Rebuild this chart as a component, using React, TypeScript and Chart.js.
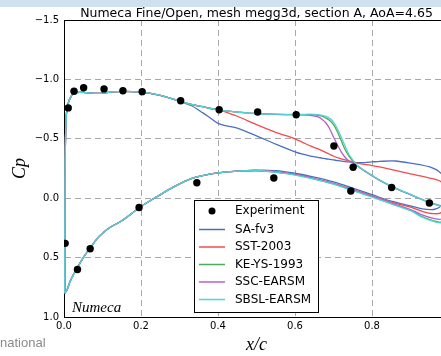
import React, { useEffect, useRef } from 'react';
import { Chart, registerables } from 'chart.js';

Chart.register(...registerables);

// ---------- texts ----------
const TITLE = 'Numeca Fine/Open, mesh megg3d, section A, AoA=4.65';
const WATERMARK = 'Numeca';
const X_LABEL = 'x/c';
const Y_LABEL = 'Cp';
const FOOTNOTE = 'national';

// ---------- ticks ----------
const xTicks = [0.0, 0.2, 0.4, 0.6, 0.8, 1.0];
const yTicks = [-1.5, -1.0, -0.5, 0.0, 0.5, 1.0];

// ---------- experiment ----------
const expX = [0.003, 0.011, 0.026, 0.051, 0.104, 0.153, 0.203, 0.303, 0.403, 0.503, 0.603, 0.701, 0.751, 0.851, 0.949,
  0.035, 0.068, 0.195, 0.345, 0.545, 0.745];
const expCp = [0.38, -0.76, -0.90, -0.93, -0.92, -0.905, -0.897, -0.82, -0.745, -0.725, -0.703, -0.44, -0.26, -0.09, 0.04,
  0.60, 0.425, 0.078, -0.13, -0.17, -0.06];

// ---------- CFD: suction side (LE -> TE) ----------
const upperX = [0.002, 0.003, 0.006, 0.011, 0.02, 0.03, 0.05, 0.08, 0.1, 0.12, 0.15, 0.2, 0.25, 0.3,
  0.33, 0.36, 0.38, 0.4, 0.42, 0.45, 0.5, 0.55, 0.6, 0.62, 0.64, 0.66, 0.67, 0.68, 0.69, 0.7, 0.71, 0.72, 0.73, 0.74,
  0.76, 0.78, 0.8, 0.82, 0.86, 0.9, 0.95, 0.98, 1.0];

const upperSA = [0.80, -0.30, -0.70, -0.80, -0.865, -0.888, -0.89, -0.883, -0.885, -0.893, -0.90, -0.893, -0.865, -0.815,
  -0.78, -0.72, -0.675, -0.63, -0.61, -0.59, -0.525, -0.455, -0.39, -0.37, -0.355, -0.343, -0.338, -0.332, -0.327, -0.322,
  -0.317, -0.312, -0.308, -0.305, -0.30, -0.30, -0.305, -0.31, -0.313, -0.295, -0.263, -0.207, -0.08];
const upperSST = [0.80, -0.30, -0.70, -0.80, -0.865, -0.888, -0.89, -0.883, -0.885, -0.893, -0.90, -0.893, -0.865, -0.818,
  -0.79, -0.77, -0.755, -0.745, -0.725, -0.69, -0.62, -0.555, -0.50, -0.47, -0.44, -0.415, -0.40, -0.385, -0.37, -0.355,
  -0.342, -0.332, -0.322, -0.313, -0.297, -0.285, -0.275, -0.263, -0.235, -0.205, -0.17, -0.137, -0.03];
const upperKE = [0.80, -0.30, -0.70, -0.80, -0.865, -0.888, -0.89, -0.883, -0.885, -0.893, -0.90, -0.893, -0.865, -0.818,
  -0.79, -0.77, -0.755, -0.745, -0.735, -0.725, -0.712, -0.706, -0.703, -0.703, -0.703, -0.698, -0.69, -0.675, -0.655, -0.62,
  -0.56, -0.485, -0.41, -0.355, -0.277, -0.23, -0.19, -0.15, -0.085, -0.03, 0.04, 0.07, 0.12];
const upperSSC = [0.80, -0.30, -0.70, -0.80, -0.865, -0.888, -0.89, -0.883, -0.885, -0.893, -0.90, -0.893, -0.865, -0.818,
  -0.79, -0.77, -0.755, -0.745, -0.735, -0.725, -0.712, -0.706, -0.703, -0.702, -0.698, -0.685, -0.665, -0.635, -0.585, -0.515,
  -0.45, -0.39, -0.345, -0.315, -0.28, -0.232, -0.19, -0.15, -0.085, -0.03, 0.035, 0.065, 0.11];
const upperSBSL = [0.80, -0.30, -0.70, -0.80, -0.865, -0.888, -0.89, -0.883, -0.885, -0.893, -0.90, -0.893, -0.865, -0.818,
  -0.79, -0.77, -0.755, -0.745, -0.735, -0.725, -0.712, -0.707, -0.705, -0.706, -0.707, -0.704, -0.698, -0.688, -0.672, -0.64,
  -0.585, -0.515, -0.44, -0.37, -0.283, -0.233, -0.192, -0.152, -0.087, -0.032, 0.038, 0.07, 0.13];

// ---------- CFD: pressure side (LE -> TE) ----------
const lowerX = [0.002, 0.008, 0.016, 0.025, 0.035, 0.05, 0.068, 0.085, 0.1, 0.12, 0.15, 0.2, 0.24, 0.285, 0.33, 0.36,
  0.4, 0.45, 0.5, 0.55, 0.6, 0.65, 0.7, 0.75, 0.8, 0.85, 0.9, 0.93, 0.96, 0.98, 1.0];

const lowerSA = [0.80, 0.77, 0.70, 0.64, 0.585, 0.50, 0.42, 0.345, 0.295, 0.245, 0.19, 0.07, -0.01, -0.095, -0.165, -0.19,
  -0.213, -0.228, -0.235, -0.232, -0.21, -0.177, -0.137, -0.085, -0.03, 0.025, 0.065, 0.09, 0.095, 0.06, -0.08];
const lowerSST = [0.80, 0.77, 0.70, 0.64, 0.585, 0.50, 0.42, 0.345, 0.295, 0.245, 0.19, 0.07, -0.01, -0.095, -0.165, -0.19,
  -0.213, -0.228, -0.233, -0.222, -0.20, -0.165, -0.125, -0.072, -0.02, 0.033, 0.075, 0.11, 0.13, 0.12, -0.03];
const lowerKE = [0.80, 0.77, 0.70, 0.64, 0.585, 0.50, 0.42, 0.345, 0.295, 0.245, 0.19, 0.07, -0.01, -0.095, -0.165, -0.19,
  -0.213, -0.228, -0.233, -0.22, -0.198, -0.162, -0.12, -0.067, -0.013, 0.045, 0.10, 0.155, 0.19, 0.20, 0.12];
const lowerSSC = [0.80, 0.77, 0.70, 0.64, 0.585, 0.50, 0.42, 0.345, 0.295, 0.245, 0.19, 0.07, -0.01, -0.095, -0.165, -0.19,
  -0.213, -0.228, -0.233, -0.222, -0.20, -0.165, -0.123, -0.07, -0.017, 0.04, 0.095, 0.14, 0.17, 0.175, 0.11];
const lowerSBSL = [0.80, 0.77, 0.70, 0.64, 0.585, 0.50, 0.42, 0.345, 0.295, 0.245, 0.19, 0.07, -0.01, -0.095, -0.165, -0.19,
  -0.213, -0.228, -0.233, -0.218, -0.195, -0.16, -0.118, -0.064, -0.01, 0.048, 0.105, 0.16, 0.195, 0.205, 0.13];

const EXP_NAME = 'Experiment';
const seriesNames = ['SA-fv3', 'SST-2003', 'KE-YS-1993', 'SSC-EARSM', 'SBSL-EARSM'];
const seriesUpper = [upperSA, upperSST, upperKE, upperSSC, upperSBSL];
const seriesLower = [lowerSA, lowerSST, lowerKE, lowerSSC, lowerSBSL];

// styles
const seriesColors = ['#4a70c2', '#f24c4c', '#4eaa5a', '#b660c6', '#52d4d4'];

const fmt = (v: number) => {
  const s = Math.abs(v).toFixed(1);
  return v < -1e-9 ? '\u2212' + s : s;
};

const decorPlugin = {
  id: 'decor',
  afterDraw(chart: any) {
    const { ctx, chartArea: ca } = chart;
    ctx.save();
    ctx.setLineDash([]);
    // top frame line
    ctx.strokeStyle = '#000';
    ctx.lineWidth = 1;
    const ty = Math.round(ca.top) + 0.5;
    ctx.beginPath();
    ctx.moveTo(ca.left, ty);
    ctx.lineTo(ca.right, ty);
    ctx.stroke();

    // title
    ctx.fillStyle = '#000';
    ctx.font = '12.5px "DejaVu Sans"';
    ctx.textAlign = 'center';
    ctx.textBaseline = 'alphabetic';
    ctx.fillText(TITLE, (ca.left + ca.right) / 2, ca.top - 3.5);

    // watermark
    ctx.font = 'italic 15px "Liberation Serif"';
    ctx.textAlign = 'left';
    ctx.fillText(WATERMARK, ca.left + 8, ca.bottom - 5);

    // legend
    const bx = 194.5, by = 200.5, bw = 124, bh = 112;
    ctx.fillStyle = '#fff';
    ctx.fillRect(bx, by, bw, bh);
    ctx.strokeStyle = '#000';
    ctx.lineWidth = 1;
    ctx.strokeRect(bx, by, bw, bh);
    const rows = [211, 229.5, 247, 264.5, 282, 299.5];
    ctx.font = '12px "DejaVu Sans"';
    ctx.textBaseline = 'middle';
    chart.data.datasets.forEach((ds: any, i: number) => {
      const y = rows[i];
      if (ds.showLine) {
        ctx.strokeStyle = ds.borderColor;
        ctx.lineWidth = 1.5;
        ctx.beginPath();
        ctx.moveTo(199, y);
        ctx.lineTo(225, y);
        ctx.stroke();
      } else {
        ctx.fillStyle = '#000';
        ctx.beginPath();
        ctx.arc(212, y, 3.5, 0, Math.PI * 2);
        ctx.fill();
      }
      ctx.fillStyle = '#000';
      ctx.fillText(ds.label, 235, y);
    });
    ctx.restore();
  },
};

export default function App() {
  const ref = useRef<HTMLCanvasElement | null>(null);

  useEffect(() => {
    document.body.style.margin = '0';
    document.body.style.overflow = 'hidden';
    const canvas = ref.current!;
    const modelSets = seriesNames.map((name, k) => {
      const up = upperX.map((x, i) => ({ x, y: seriesUpper[k][i] }));
      const lo = lowerX.slice(0, -1).map((x, i) => ({ x, y: seriesLower[k][i] })).reverse();
      return {
        type: 'scatter' as const,
        label: name,
        data: [...up, ...lo],
        showLine: true,
        borderColor: seriesColors[k],
        backgroundColor: seriesColors[k],
        borderWidth: 1.3,
        pointRadius: 0,
        pointHoverRadius: 0,
        tension: 0.3,
        fill: false,
        order: 6 - k,
      };
    });
    const expSet = {
      type: 'scatter' as const,
      label: EXP_NAME,
      data: expX.map((x, i) => ({ x, y: expCp[i] })),
      showLine: false,
      pointRadius: 3.7,
      pointBackgroundColor: '#000',
      pointBorderColor: '#000',
      pointBorderWidth: 0,
      order: 0,
    };
    const chart = new Chart(canvas, {
      type: 'scatter',
      data: { datasets: [expSet as any, ...modelSets] },
      options: {
        responsive: false,
        animation: false,
        devicePixelRatio: 1,
        layout: { padding: { top: 20, right: 21, bottom: 0, left: 0 } },
        plugins: { legend: { display: false }, tooltip: { enabled: false }, title: { display: false } },
        scales: {
          x: {
            type: 'linear',
            min: 0,
            max: 1,
            afterBuildTicks: (s: any) => { s.ticks = xTicks.map((v) => ({ value: v })); },
            afterFit: (s: any) => { s.height = 39; },
            ticks: {
              autoSkip: false,
              maxRotation: 0,
              padding: 3,
              color: '#000',
              font: { family: 'DejaVu Sans', size: 10 },
              callback: (v: any) => fmt(Number(v)),
            },
            grid: { color: '#a8a8a8', lineWidth: 1, drawTicks: false },
            border: { display: true, color: '#000', width: 1, dash: [6, 4] },
            title: {
              display: true,
              text: X_LABEL,
              color: '#000',
              font: { family: 'Liberation Serif', style: 'italic', size: 18 },
              padding: { top: 0, bottom: 0 },
            },
          },
          y: {
            type: 'linear',
            min: -1.5,
            max: 1.0,
            reverse: true,
            afterBuildTicks: (s: any) => { s.ticks = yTicks.map((v) => ({ value: v })); },
            afterFit: (s: any) => { s.width = 64; },
            ticks: {
              autoSkip: false,
              padding: 5,
              color: '#000',
              font: { family: 'DejaVu Sans', size: 10 },
              callback: (v: any) => fmt(Number(v)),
            },
            grid: { color: '#a8a8a8', lineWidth: 1, drawTicks: false },
            border: { display: true, color: '#000', width: 1, dash: [6, 4] },
            title: {
              display: true,
              text: Y_LABEL,
              color: '#000',
              font: { family: 'Liberation Serif', style: 'italic', size: 18 },
              padding: { top: 9, bottom: 0 },
            },
          },
        },
      },
      plugins: [decorPlugin],
    } as any);
    return () => chart.destroy();
  }, []);

  return (
    <div style={{ position: 'relative', width: 441, height: 356, overflow: 'hidden', background: '#fff' }}>
      <canvas ref={ref} width={470} height={356} style={{ position: 'absolute', left: 0, top: 0, width: 470, height: 356 }} />
      <div style={{ position: 'absolute', left: 0, top: 0, width: 441, height: 7, background: '#cfe0ef' }} />
      <div
        style={{
          position: 'absolute', left: 0, top: 335, fontFamily: '"Liberation Sans", Arial, sans-serif',
          fontSize: 13, lineHeight: '15px', color: '#8a8a8a', whiteSpace: 'nowrap',
        }}
      >
        {FOOTNOTE}
      </div>
    </div>
  );
}
